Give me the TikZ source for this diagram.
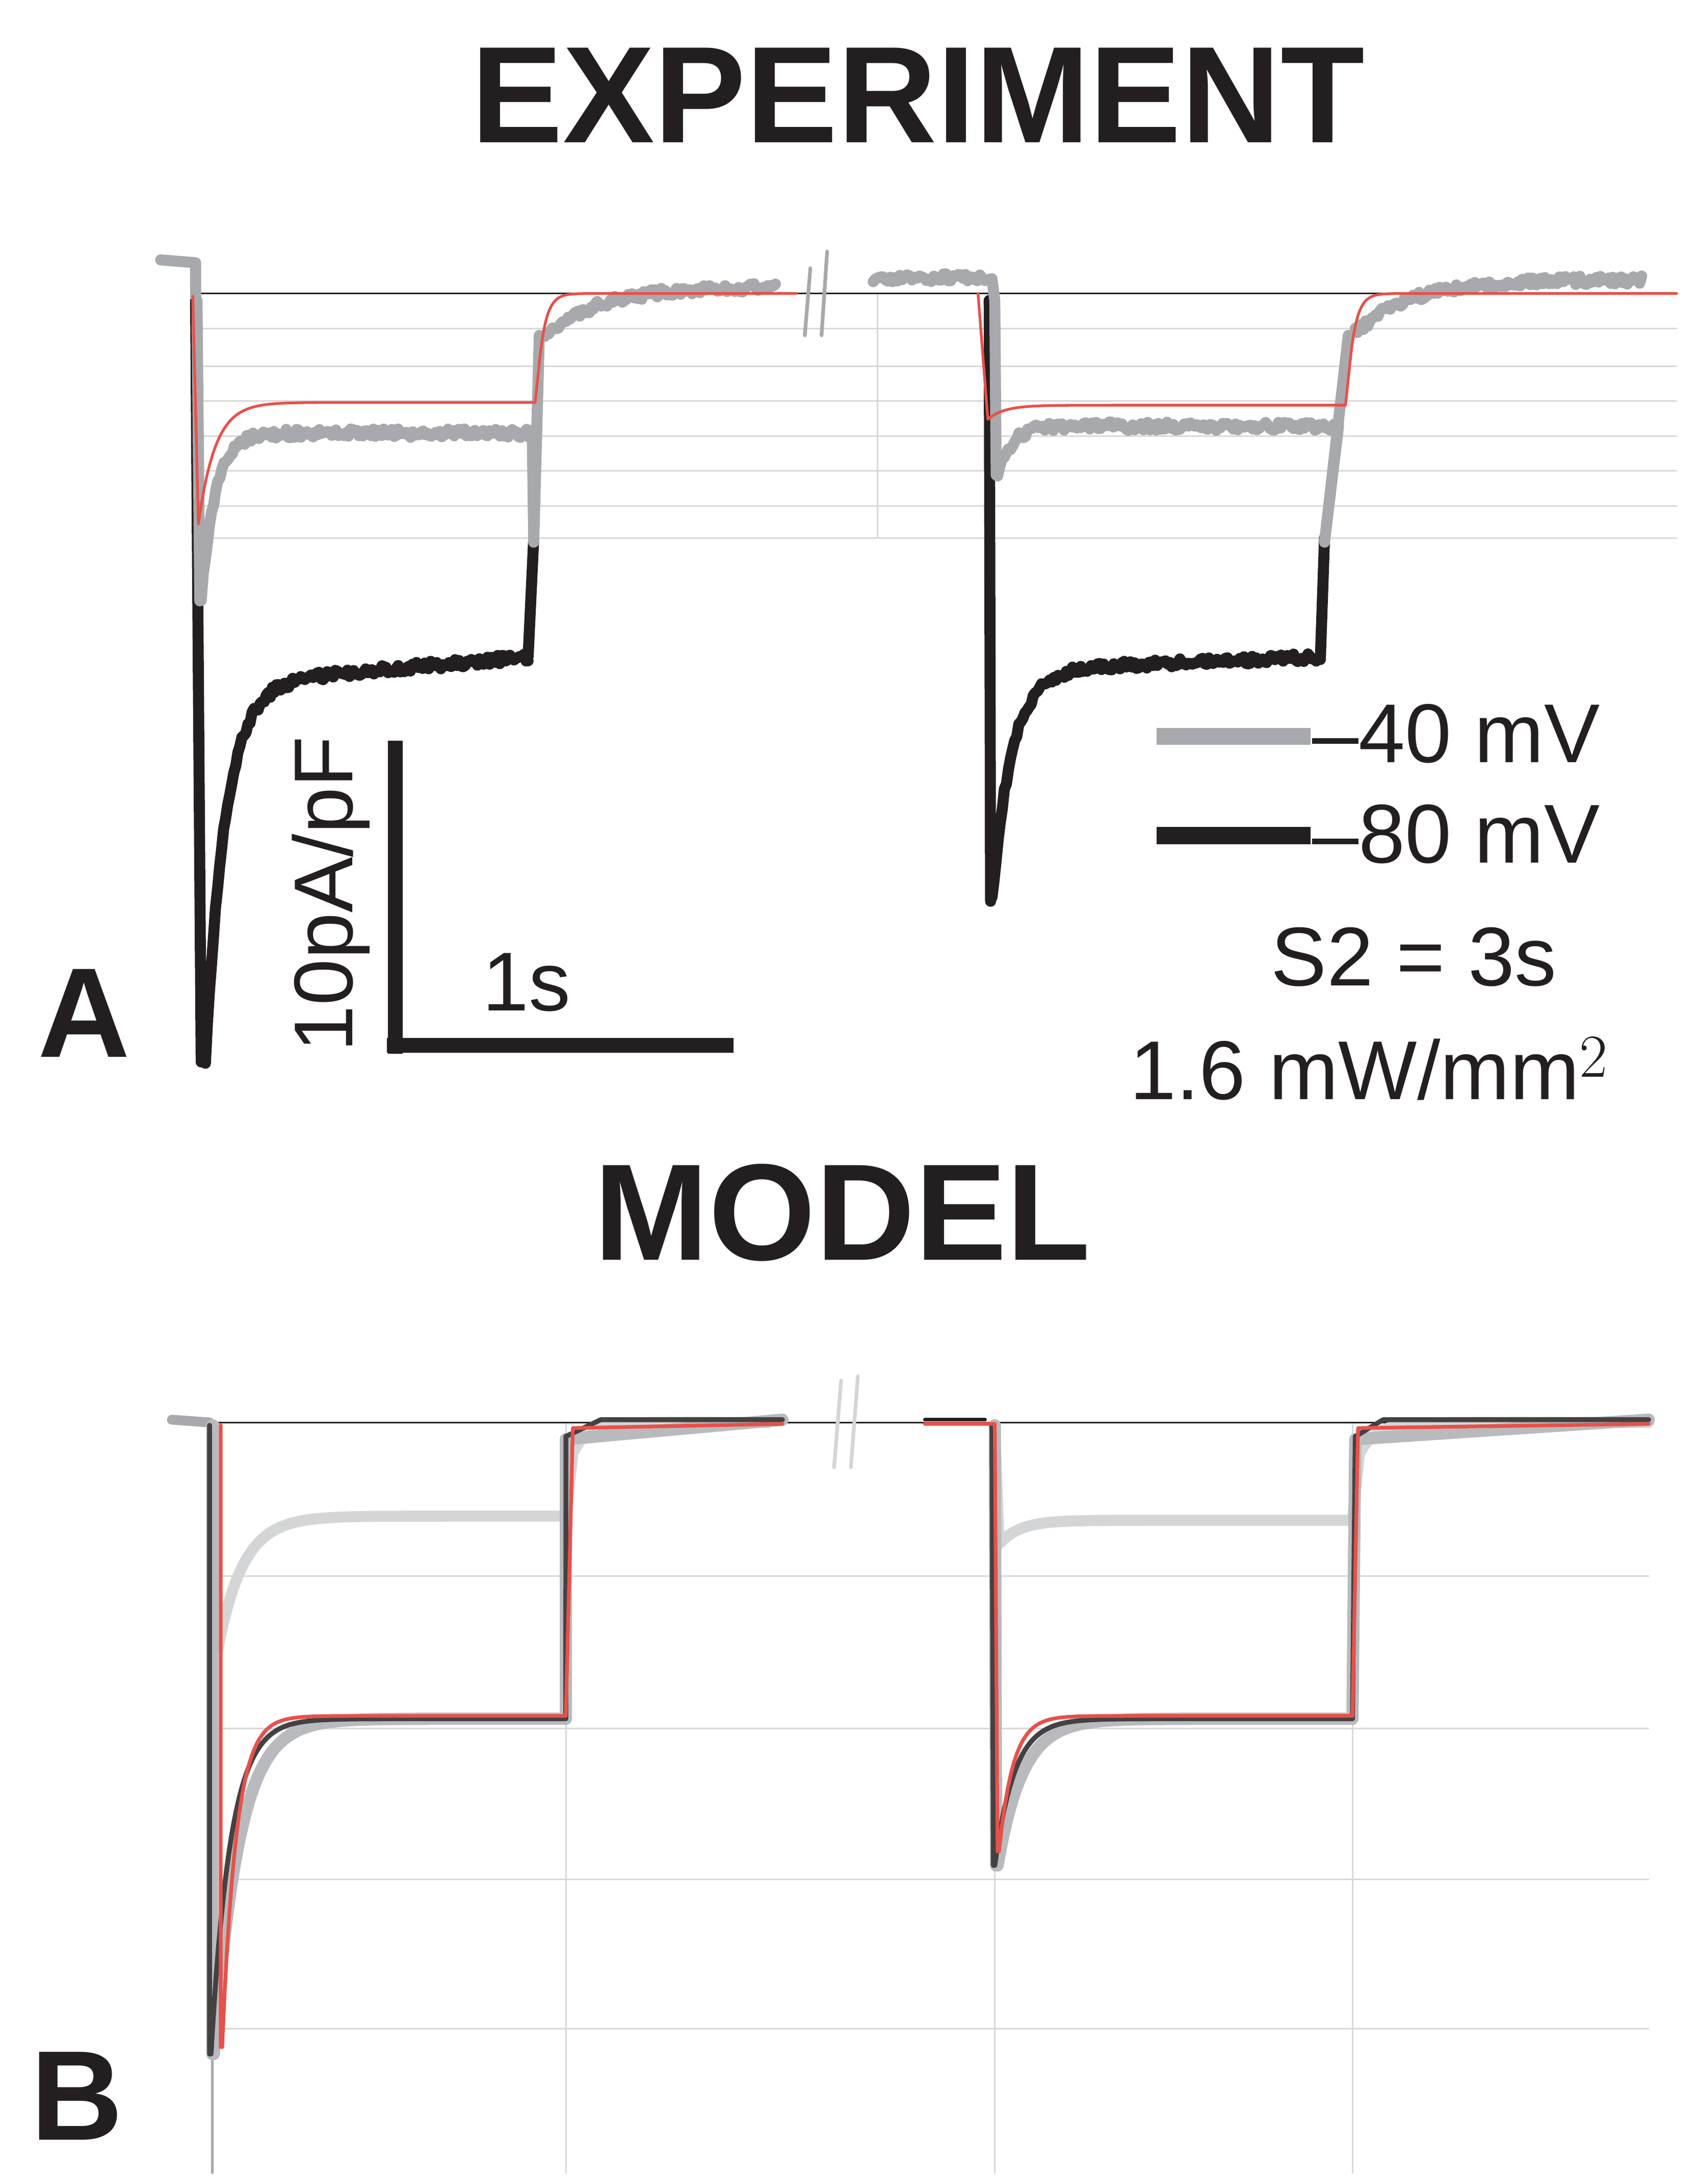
\documentclass[tikz,border=0pt]{standalone}
\usepackage{fontspec}
\setmainfont{Liberation Sans}
\begin{document}
\begin{tikzpicture}[x=0.02cm,y=-0.02cm,line join=round,line cap=round]
\definecolor{tgray}{HTML}{A7A9AC}
\definecolor{lgray}{HTML}{D4D5D6}
\definecolor{tblack}{HTML}{231F20}
\definecolor{tred}{HTML}{E8504A}
\definecolor{grid}{HTML}{D8D8D8}
\tikzset{gridline/.style={grid,line width=0.6pt},
 grayt/.style={tgray,line width=4.5pt},
 blackt/.style={tblack,line width=4.5pt},
 redt/.style={tred,line width=1.1pt},
 ttl/.style={font=\fontsize{56}{62}\selectfont\bfseries,text=tblack},
 plbl/.style={font=\fontsize{52}{58}\selectfont\bfseries,text=tblack},
 lbl/.style={font=\fontsize{34}{40}\selectfont,text=tblack}}
\pgfmathsetseed{7}
\useasboundingbox (0,0) rectangle (1216,1563);
% ---------- Panel A ----------
\node[ttl] (t1) at (657,68) {EXPERIMENT};
\foreach \y in {235,262,287,312,337,362,385} \draw[gridline] (138,\y) -- (1200,\y);
\draw[gridline] (628,210) -- (628,385);
\draw[tblack,line width=0.7pt] (138,210) -- (1200,210);
% black -80
\draw[blackt] (140,215) -- (144,760) -- (147,760)
  plot[domain=147:378,samples=160] (\x,{490-20*(\x-150)/230+270*exp(-(\x-147)/14)+3*rand});
\draw[blackt] (378,470) -- (382,385);
\draw[blackt] (708,215) -- (709,645)
  plot[domain=710:945,samples=160] (\x,{480-10*(\x-710)/235+165*exp(-(\x-710)/14)+3*rand});
\draw[blackt] (945,472) -- (948,385);
% gray -40
\draw[grayt] (115,186) -- (140,188) -- (140,212);
\draw[grayt] (141,215) -- (143,430) plot[domain=144:380,samples=160] (\x,{310+120*exp(-(\x-144)/10)+3*rand});
\draw[grayt] (381,312) -- (382,388) -- (386,240) plot[domain=390:555,samples=120] (\x,{205+35*exp(-(\x-390)/40)+3*rand});
\draw[grayt] plot[domain=625:710,samples=50] (\x,{199+3*rand}) -- (712,215) -- (713,340)
  plot[domain=714:958,samples=160] (\x,{305+35*exp(-(\x-714)/10)+3*rand});
\draw[grayt] (958,305) -- (948,388) -- (965,240) plot[domain=970:1175,samples=140] (\x,{200+38*exp(-(\x-970)/40)+3*rand});
\draw[tgray,line width=1.5pt] (580,192) -- (576,240) (592,180) -- (588,240);
% red fit
\draw[redt] (138,212) -- (142,375) plot[domain=142:383,samples=120] (\x,{288+87*exp(-(\x-142)/12)})
  -- (386,260) plot[domain=386:420,samples=40] (\x,{210+50*exp(-(\x-386)/5)}) -- (570,210);
\draw[redt] (700,210) -- (707,300) plot[domain=707:963,samples=120] (\x,{290+10*exp(-(\x-707)/12)})
  -- (966,262) plot[domain=966:1000,samples=40] (\x,{210+52*exp(-(\x-966)/5)}) -- (1200,210);
% scale bar
\draw[tblack,line width=6pt,line cap=butt] (283,530) -- (283,754) (277,748) -- (525,748);
\node[lbl,rotate=90] (sy) at (237,640) {10pA/pF};
\node[lbl] (sx) at (377,703) {1s};
\node[plbl] (A) at (60,725) {A};
% legend
\draw[tgray,line width=7pt,line cap=butt] (828,527) -- (938,527);
\draw[tblack,line width=7pt,line cap=butt] (828,598) -- (938,598);
\node[lbl,anchor=west] (l1) at (933,525) {–40 mV};
\node[lbl,anchor=west] (l2) at (933,597) {–80 mV};
\node[lbl] (s2) at (1012,685) {S2 = 3s};
\node[lbl] (pw) at (980,765) {1.6 mW/mm$^2$};
% ---------- Panel B ----------
\node[ttl] (t2) at (603,868) {MODEL};
\foreach \y in {1128,1237,1345,1452} \draw[gridline] (152,\y) -- (1180,\y);
\foreach \x in {405,712,968} \draw[gridline] (\x,1018) -- (\x,1555);
\draw[tgray,line width=1pt] (152,1018) -- (152,1555);
\draw[tblack,line width=0.7pt] (152,1018) -- (1180,1018);
\draw[tgray,line width=4pt] (123,1016) -- (150,1018);
% gray -40
\draw[lgray,line width=4.5pt] (153,1020) -- (156,1180) plot[domain=156:405,samples=120] (\x,{1085+95*exp(-(\x-156)/18)})
  -- (410,1040) plot[domain=410:550,samples=60] (\x,{1018+22*exp(-(\x-410)/10)});
\draw[lgray,line width=4.5pt] (712,1020) -- (715,1105) plot[domain=715:968,samples=120] (\x,{1088+17*exp(-(\x-715)/15)})
  -- (973,1040) plot[domain=973:1180,samples=60] (\x,{1018+22*exp(-(\x-973)/12)});
% black -80 (with gray shadow)
\draw[tgray!80,line width=5pt] (152,1020) -- (152,1470) plot[domain=153:405,samples=140] (\x,{1230+240*exp(-(\x-153)/18)}) -- (405,1030) -- (560,1016);
\draw[tgray!80,line width=5pt] (712,1020) -- (713,1335) plot[domain=714:968,samples=120] (\x,{1230+105*exp(-(\x-714)/18)}) -- (970,1030) -- (1180,1016);
\draw[tblack!85,line width=2pt] (150,1020) -- (150,1470) plot[domain=151:405,samples=140] (\x,{1230+240*exp(-(\x-151)/14)}) -- (405,1028) -- (430,1016) -- (560,1016);
\draw[tblack!85,line width=2pt] (710,1020) -- (711,1335) plot[domain=712:968,samples=120] (\x,{1230+105*exp(-(\x-712)/14)}) -- (970,1028) -- (990,1016) -- (1180,1016);
% red
\draw[tred,line width=1.5pt] (158,1020) -- (158,1465) plot[domain=159:405,samples=140] (\x,{1228+237*exp(-(\x-159)/10)}) -- (410,1022) -- (560,1019);
\draw[tred,line width=1.5pt] (662,1019) -- (712,1019) -- (714,1325) plot[domain=715:968,samples=120] (\x,{1228+97*exp(-(\x-715)/10)}) -- (972,1022) -- (1180,1019);
\draw[tblack,line width=1.5pt] (662,1016) -- (705,1016);
\draw[lgray,line width=1.5pt] (602,988) -- (597,1050) (614,985) -- (609,1050);
\node[plbl] (B) at (55,1500) {B};
\end{tikzpicture}
\end{document}
